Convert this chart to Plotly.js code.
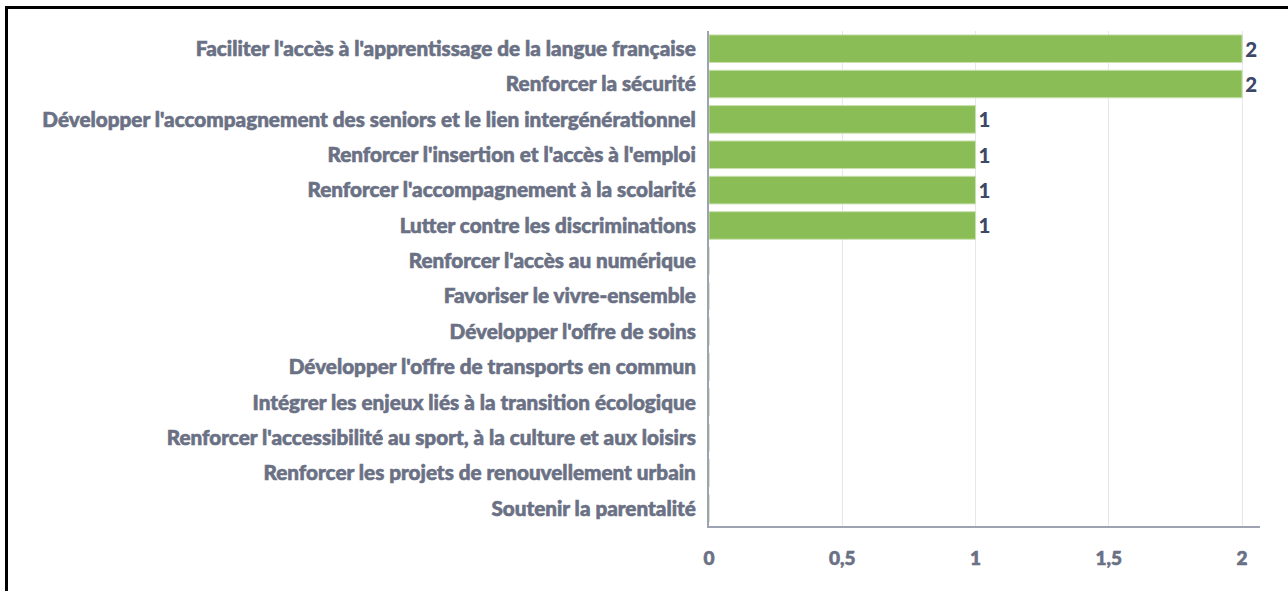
<!DOCTYPE html>
<html>
<head>
<meta charset="utf-8">
<script src="https://cdn.plot.ly/plotly-3.0.1.min.js"></script>
<style>
  html, body { margin: 0; padding: 0; background: #fff; }
  #graph { position: absolute; left: 0; top: 0; width: 1288px; height: 591px; }
  #cadre { position: absolute; left: 5px; top: 6px; right: 0; bottom: 0;
           border-left: 3px solid #000; border-top: 3px solid #000; pointer-events: none; }
  /* graisse plus forte, comme du Lato Black */
  #graph .ytick text, #graph .xtick text { stroke: #6b7185; stroke-width: 0.6px; }
  #graph .textpoint text { stroke: #3d4766; stroke-width: 0.6px; }
</style>
</head>
<body>
<div id="graph"></div>
<div id="cadre"></div>
<script>
// objectifs (de haut en bas)
var objectifs = [
  "Faciliter l'accès à l'apprentissage de la langue française",
  "Renforcer la sécurité",
  "Développer l'accompagnement des seniors et le lien intergénérationnel",
  "Renforcer l'insertion et l'accès à l'emploi",
  "Renforcer l'accompagnement à la scolarité",
  "Lutter contre les discriminations",
  "Renforcer l'accès au numérique",
  "Favoriser le vivre-ensemble",
  "Développer l'offre de soins",
  "Développer l'offre de transports en commun",
  "Intégrer les enjeux liés à la transition écologique",
  "Renforcer l'accessibilité au sport, à la culture et aux loisirs",
  "Renforcer les projets de renouvellement urbain",
  "Soutenir la parentalité"
];
var nb_reponses = [2, 2, 1, 1, 1, 1, 0, 0, 0, 0, 0, 0, 0, 0];

// étiquettes des valeurs (rien pour les zéros)
var etiquettes = nb_reponses.map(function (v) { return v > 0 ? String(v) : ''; });

var police = 'Lato, "Open Sans", sans-serif';

var barres = {
  type: 'bar',
  orientation: 'h',
  x: nb_reponses,
  y: objectifs,
  text: etiquettes,
  textposition: 'outside',
  cliponaxis: false,
  textfont: { family: police, size: 20.5, color: '#3d4766', weight: 900 },
  marker: {
    color: '#8bbd56',
    line: { color: '#c9e0b0', width: 1 }
  },
  hoverinfo: 'x+y'
};

var layout = {
  width: 1288,
  height: 591,
  margin: { l: 709, r: 28, t: 31, b: 65 },
  paper_bgcolor: '#ffffff',
  plot_bgcolor: '#ffffff',
  separators: ', ',
  bargap: 0.22,
  showlegend: false,
  font: { family: police, size: 20.7, color: '#6b7185', weight: 900 },
  xaxis: {
    range: [0, 2.067],
    tickvals: [0, 0.5, 1, 1.5, 2],
    ticktext: ['0', '0,5', '1', '1,5', '2'],
    showgrid: true,
    gridcolor: '#e6e7ea',
    gridwidth: 1,
    zeroline: false,
    showline: true,
    linecolor: '#9ea3b2',
    linewidth: 2,
    ticks: 'outside',
    ticklen: 14,
    tickcolor: 'rgba(0,0,0,0)',
    tickfont: { family: police, size: 19, color: '#6b7185', weight: 900 }
  },
  yaxis: {
    autorange: 'reversed',
    showgrid: false,
    zeroline: false,
    showline: true,
    linecolor: '#9ea3b2',
    linewidth: 2,
    ticks: 'outside',
    ticklen: 7,
    tickcolor: 'rgba(0,0,0,0)',
    tickfont: { family: police, size: 20.7, color: '#6b7185', weight: 900 }
  }
};

Plotly.newPlot('graph', [barres], layout, { displayModeBar: false, staticPlot: true });
</script>
</body>
</html>
